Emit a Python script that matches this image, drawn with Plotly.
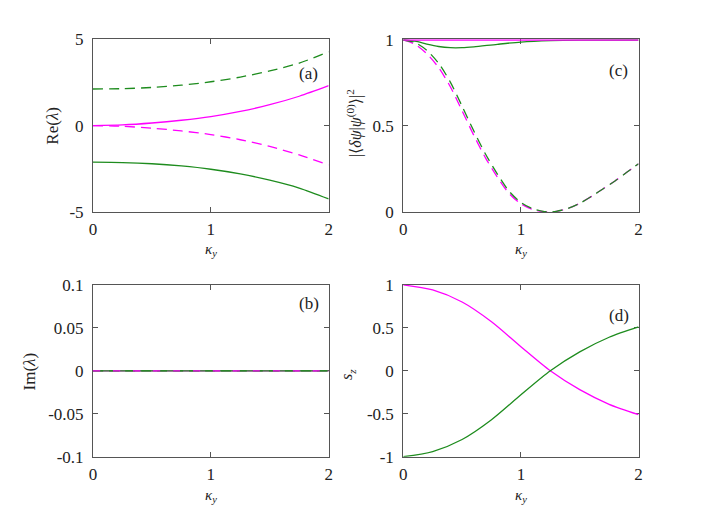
import plotly.graph_objects as go

# ---------------- data ----------------
k9 = [0, 0.25, 0.5, 0.75, 1.0, 1.25, 1.5, 1.75, 2.0]
re_green_dash = [2.12, 2.14, 2.21, 2.34, 2.54, 2.81, 3.17, 3.62, 4.28]
re_green_solid = [-2.12, -2.14, -2.21, -2.34, -2.53, -2.80, -3.16, -3.62, -4.25]
re_mag_solid = [0.0, 0.04, 0.15, 0.31, 0.52, 0.82, 1.21, 1.70, 2.31]
re_mag_dash = [0.0, -0.04, -0.15, -0.31, -0.52, -0.82, -1.21, -1.70, -2.28]

k_im = [0, 1, 2]
im_all = [0, 0, 0]

k_c = [0, 0.1, 0.2, 0.3, 0.4, 0.5, 0.6, 0.7, 0.8, 0.9, 1.0, 1.1, 1.2, 1.25,
       1.3, 1.4, 1.5, 1.6, 1.7, 1.8, 1.9, 2.0]
ov_green_dash = [1.0, 0.985, 0.94, 0.865, 0.755, 0.615, 0.47, 0.335, 0.22, 0.12,
                 0.055, 0.018, 0.002, 0.0, 0.003, 0.02, 0.05, 0.09, 0.135, 0.18,
                 0.23, 0.28]
ov_mag_dash = [1.0, 0.975, 0.92, 0.84, 0.728, 0.588, 0.445, 0.313, 0.202, 0.107,
               0.047, 0.014, 0.001, 0.0, 0.003, 0.02, 0.05, 0.09, 0.135, 0.18,
               0.23, 0.28]
k_cs = [0, 0.1, 0.2, 0.3, 0.4, 0.5, 0.6, 0.8, 1.0, 1.25, 1.5, 2.0]
ov_green_solid = [1.0, 0.993, 0.976, 0.962, 0.955, 0.955, 0.96, 0.975, 0.988,
                  0.996, 0.999, 1.0]
ov_mag_solid = [1.0, 1.0, 1.0, 1.0, 1.0, 1.0, 1.0, 1.0, 1.0, 1.0, 1.0, 1.0]

sz_mag = [1.0, 0.94, 0.80, 0.57, 0.28, 0.0, -0.22, -0.39, -0.51]
sz_green = [-1.0, -0.94, -0.80, -0.57, -0.28, 0.0, 0.22, 0.39, 0.51]

x_ticks = [0, 1, 2]
a_ticks = [-5, 0, 5]
a_ticktext = ["-5", "0", "5"]
b_ticks = [-0.1, -0.05, 0, 0.05, 0.1]
b_ticktext = ["-0.1", "-0.05", "0", "0.05", "0.1"]
c_ticks = [0, 0.5, 1]
c_ticktext = ["0", "0.5", "1"]
d_ticks = [-1, -0.5, 0, 0.5, 1]
d_ticktext = ["-1", "-0.5", "0", "0.5", "1"]

GREEN = "#1e8c1e"
MAG = "#ff00ff"
AX = "#555555"
FONT = "Liberation Serif, DejaVu Serif, serif"
DASH = "10px,6px"

fig = go.Figure()

def line(x, y, color, dash, xa, ya, dashpat=DASH):
    fig.add_trace(go.Scatter(
        x=x, y=y, mode="lines", xaxis=xa, yaxis=ya, showlegend=False,
        line=dict(color=color, width=1.3, shape="spline", smoothing=0.8,
                  dash=(dashpat if dash else "solid")),
        hoverinfo="skip"))

# panel (a)
line(k9, re_green_dash, GREEN, True, "x", "y")
line(k9, re_green_solid, GREEN, False, "x", "y")
line(k9, re_mag_solid, MAG, False, "x", "y")
line(k9, re_mag_dash, MAG, True, "x", "y")

# panel (b)
line(k_im, im_all, MAG, False, "x3", "y3")
line(k_im, im_all, GREEN, True, "x3", "y3")
line(k_im, im_all, GREEN, False, "x3", "y3")
line(k_im, im_all, MAG, True, "x3", "y3", dashpat="7px,13px")

# panel (c)
line(k_c, ov_mag_dash, MAG, True, "x2", "y2")
line(k_c, ov_green_dash, GREEN, True, "x2", "y2")
line(k_cs, ov_green_solid, GREEN, False, "x2", "y2")
line(k_cs, ov_mag_solid, MAG, False, "x2", "y2")

# panel (d)
line(k9, sz_mag, MAG, False, "x4", "y4")
line(k9, sz_green, GREEN, False, "x4", "y4")

# map target picture pixels to figure pixels (page offset / scaling seen
# in earlier renders)
W, H = 705, 520

def px(x):
    return ((x - 10.9) / 0.990) / W

def py(y):
    return 1 - ((y - 15.9) / 0.968) / H

xl = [px(92), px(328)]
xr = [px(402.7), px(638.3)]
yt = [py(211.7), py(38.3)]
yb = [py(457.7), py(285)]

TICKFONT = dict(family=FONT, size=17, color="#222")

def xaxis(dom, anchor):
    return dict(domain=dom, anchor=anchor, range=[0, 2], tickvals=x_ticks,
                ticktext=["0", "1", "2"], ticks="inside", ticklen=5,
                tickcolor=AX, showline=True, linecolor=AX, linewidth=1,
                mirror="allticks", showgrid=False, zeroline=False,
                tickfont=TICKFONT, ticklabelstandoff=2, layer="below traces")

def yaxis(dom, anchor, rng, tv, tt):
    return dict(domain=dom, anchor=anchor, range=rng, tickvals=tv, ticktext=tt,
                ticks="inside", ticklen=5, tickcolor=AX, showline=True,
                linecolor=AX, linewidth=1, mirror="allticks", showgrid=False,
                zeroline=False, tickfont=TICKFONT, ticklabelstandoff=5,
                layer="below traces")

fig.update_layout(
    width=W, height=H, margin=dict(l=0, r=0, t=0, b=0),
    paper_bgcolor="white", plot_bgcolor="white",
    font=dict(family=FONT),
    xaxis=xaxis(xl, "y"), yaxis=yaxis(yt, "x", [-5, 5], a_ticks, a_ticktext),
    xaxis2=xaxis(xr, "y2"), yaxis2=yaxis(yt, "x2", [0, 1.004], c_ticks, c_ticktext),
    xaxis3=xaxis(xl, "y3"), yaxis3=yaxis(yb, "x3", [-0.1, 0.1], b_ticks, b_ticktext),
    xaxis4=xaxis(xr, "y4"), yaxis4=yaxis(yb, "x4", [-1, 1], d_ticks, d_ticktext),
)

def ann(text, x, y, size=16, angle=0):
    fig.add_annotation(text=text, x=px(x), y=py(y), xref="paper",
                       yref="paper", showarrow=False, textangle=angle,
                       font=dict(family=FONT, size=size, color="#222"),
                       xanchor="center", yanchor="middle")

# panel labels
ann("(a)", 308, 73, size=17)
ann("(c)", 618, 70, size=17)
ann("(b)", 308.5, 304, size=17)
ann("(d)", 619, 316, size=17)

# x-axis titles
kappa = "<i>κ<sub>y</sub></i>"
for cx in (210, 520.5):
    ann(kappa, cx, 250, size=15)
    ann(kappa, cx, 497, size=15)

# y-axis titles
ann("Re(<i>λ</i>)", 52, 125, size=17, angle=-90)
ann("Im(<i>λ</i>)", 28, 372, size=17, angle=-90)
ann("|⟨<i>δψ</i>|<i>ψ</i><sup>(0)</sup>⟩|<sup>2</sup>", 354, 123, size=16, angle=-90)
ann("<i>s<sub>z</sub></i>", 347, 375, size=16, angle=-90)

fig.write_html("out.html")
